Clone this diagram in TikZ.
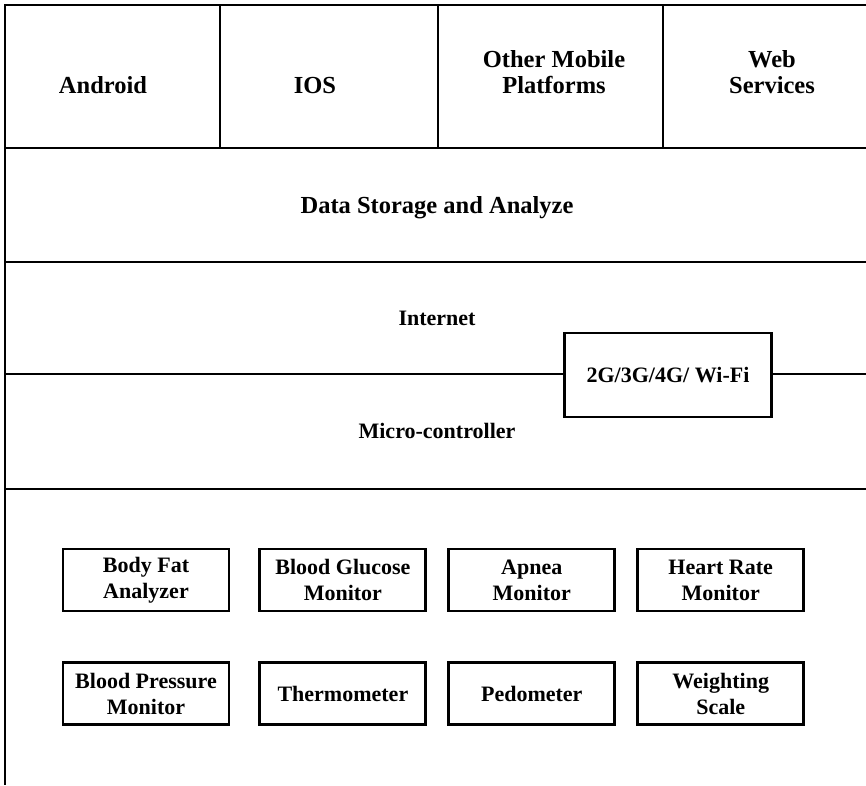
\documentclass[tikz,border=0pt]{standalone}
\usepackage{fontspec}
\setmainfont{Liberation Serif}
\usetikzlibrary{positioning}

\begin{document}
\begin{tikzpicture}[x=1pt, y=-1pt,
  layer/.style={font=\bfseries\fontsize{24.5}{26}\selectfont, align=center, inner sep=0pt},
  label/.style={font=\bfseries\fontsize{22}{26}\selectfont, align=center, inner sep=0pt},
  device/.style={draw, line width=2.9pt, minimum width=166pt, minimum height=62pt, inner sep=0pt, align=center, font=\bfseries\fontsize{22}{26}\selectfont},
  rule/.style={line width=2.8pt}]

\useasboundingbox (0,0) rectangle (866,785);

% FRAME AND LAYERS

\draw[rule] (866,5) -- (5,5) -- (5,785);
\draw[rule] (5,148) -- (866,148);
\draw[rule] (5,262) -- (866,262);
\draw[rule] (5,489) -- (866,489);
\foreach \x in {220,438,663}
  \draw[rule] (\x,5) -- (\x,148);

% PLATFORMS

\node[layer, anchor=base] (android) at (103,93) {Android};
\node[layer, anchor=base] (ios) at (315,93) {IOS};
\node[layer] (othermobile) at (554,72) {Other Mobile\\Platforms};
\node[layer] (webservices) at (772,72) {Web\\Services};

\node[layer, anchor=base] (datastorage) at (437,213) {Data Storage and Analyze};

% NETWORK

\node[label, anchor=base] (internet) at (437,325) {Internet};
\node[label, anchor=base] (microcontroller) at (437,438) {Micro-controller};

\node[device, minimum width=207pt, minimum height=84pt] (wifi) at (668,375) {2G/3G/4G/ Wi-Fi};

\coordinate (netleft) at (5,374);
\coordinate (netright) at (866,374);
\draw[rule] (netleft) -- (wifi.west |- netleft);
\draw[rule] (wifi.east |- netright) -- (netright);

% DEVICES

\node[device] (bodyfat) at (146,580) {Body Fat\\Analyzer};
\node[device, right=28pt of bodyfat] (glucose) {Blood Glucose\\Monitor};
\node[device, right=20pt of glucose] (apnea) {Apnea\\Monitor};
\node[device, right=20pt of apnea] (heartrate) {Heart Rate\\Monitor};

\node[device, below=49pt of bodyfat] (pressure) {Blood Pressure\\Monitor};
\node[device, below=49pt of glucose] (thermometer) {Thermometer};
\node[device, below=49pt of apnea] (pedometer) {Pedometer};
\node[device, below=49pt of heartrate] (scale) {Weighting\\Scale};

\end{tikzpicture}
\end{document}
